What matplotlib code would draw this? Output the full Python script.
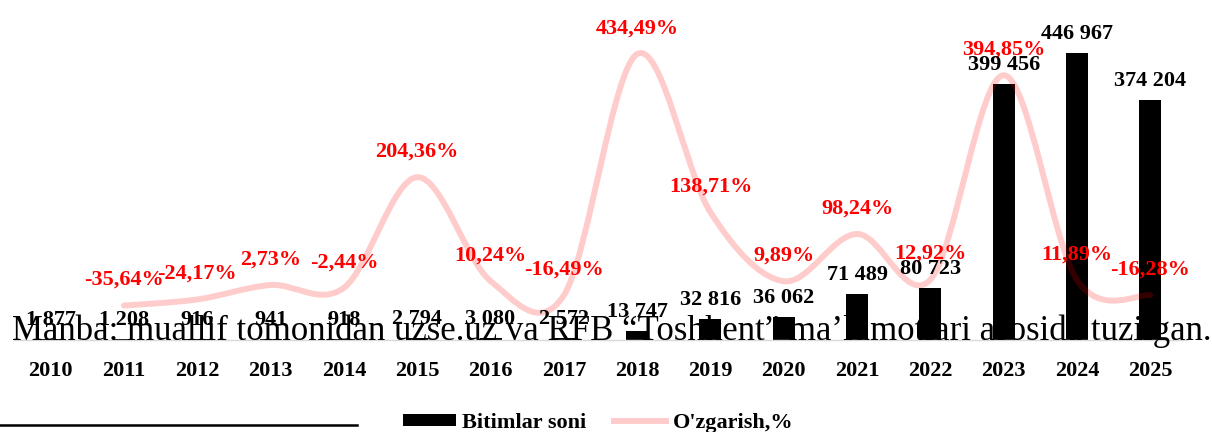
import matplotlib
matplotlib.use("Agg")
import matplotlib.pyplot as plt
from matplotlib.path import Path
from matplotlib.patches import PathPatch, Patch
from matplotlib.lines import Line2D
import numpy as np

# ---------------- data ----------------
years = ["2010", "2011", "2012", "2013", "2014", "2015", "2016", "2017",
         "2018", "2019", "2020", "2021", "2022", "2023", "2024", "2025"]
deals = [1877, 1208, 916, 941, 918, 2794, 3080, 2572,
         13747, 32816, 36062, 71489, 80723, 399456, 446967, 374204]
change_years = years[1:]
change_pct = [-35.64, -24.17, 2.73, -2.44, 204.36, 10.24, -16.49, 434.49,
              138.71, 9.89, 98.24, 12.92, 394.85, 11.89, -16.28]

bar_label = "Bitimlar soni"
line_label = "O'zgarish,%"
source_text = "Manba: muallif tomonidan uzse.uz va RFB \u201cToshkent\u201d ma\u2019lumotlari asosida tuzilgan."

# ---------------- style ----------------
SERIF = ["Liberation Serif", "DejaVu Serif"]
plt.rcParams["font.family"] = SERIF
LINE_COLOR = (1.0, 0.0, 0.0, 0.2)
FS = 16

W, H = 1212, 432
fig = plt.figure(figsize=(W / 100, H / 100), dpi=100)
ax = fig.add_axes([14 / W, 92 / H, (1187 - 14) / W, (340 - 19) / H])

x = np.arange(len(years))
ax.bar(x, deals, width=0.3, color="black", zorder=2)
ax.set_xlim(-0.5, len(years) - 0.5)
ax.set_ylim(0, 500000)
ax.set_yticks([])
ax.set_xticks(x)
ax.set_xticklabels(years, fontsize=FS, fontweight="bold")
ax.tick_params(axis="x", length=0, pad=25.9)
for lab in ax.get_xticklabels():
    lab.set_va("baseline")
for s in ["top", "left", "right"]:
    ax.spines[s].set_visible(False)
ax.spines["bottom"].set_color("#D9D9D9")
ax.spines["bottom"].set_linewidth(1.0)

ax2 = ax.twinx()
ax2.set_ylim(-100, 500)
ax2.set_yticks([])
for s in ax2.spines.values():
    s.set_visible(False)

# smoothed line (Bezier through the data points)
xi = np.array([years.index(y) for y in change_years], dtype=float)
pts = np.column_stack([xi, change_pct])
n = len(pts)
verts = [pts[0]]
codes = [Path.MOVETO]
for i in range(n - 1):
    p_prev = pts[i - 1] if i > 0 else pts[i]
    p_next2 = pts[i + 2] if i + 2 < n else pts[i + 1]
    c1 = pts[i] + (pts[i + 1] - p_prev) / 6.0
    c2 = pts[i + 1] - (p_next2 - pts[i]) / 6.0
    verts += [c1, c2, pts[i + 1]]
    codes += [Path.CURVE4] * 3
ax2.add_patch(PathPatch(Path(verts, codes), facecolor="none", edgecolor=LINE_COLOR,
                        lw=4.3, capstyle="round", joinstyle="round", zorder=3))

# labels
for xv, v in zip(xi, change_pct):
    ax2.annotate(f"{v:.2f}".replace(".", ",") + "%", xy=(xv, v), xytext=(0, 14.9),
                 textcoords="offset points", ha="center", va="baseline",
                 color="#FF0000", fontsize=FS, fontweight="bold", zorder=4)
for xv, v in zip(x, deals):
    ax2.annotate(f"{v:,}".replace(",", "\u00a0"), xy=(xv, v), xycoords=ax.transData,
                 xytext=(0, 10.1), textcoords="offset points", ha="center", va="baseline",
                 color="black", fontsize=FS, fontweight="bold", zorder=5)

# legend
handles = [Patch(facecolor="black", edgecolor="none"),
           Line2D([], [], color=LINE_COLOR, lw=4.3)]
fig.legend(handles, [bar_label, line_label], loc="center", bbox_to_anchor=(598.5 / W, 9 / H),
           ncol=2, frameon=False, prop={"family": SERIF, "size": FS, "weight": "bold"},
           handlelength=2.35, handleheight=0.4, handletextpad=0.3, columnspacing=1.25,
           borderpad=0, borderaxespad=0)

# source text fitted to width
t = fig.text(12 / W, (H - 340.5) / H, source_text, fontsize=22, family=SERIF,
             ha="left", va="baseline", color="black", zorder=6)
fig.canvas.draw()
wpx = t.get_window_extent(renderer=fig.canvas.get_renderer()).width
t.set_fontsize(22 * 1197 / wpx)

# footnote separator line
fig.add_artist(Line2D([0, 357 / W], [(H - 425) / H] * 2, color="black", lw=1.8,
                      transform=fig.transFigure))

fig.savefig("out.png", dpi=100)
